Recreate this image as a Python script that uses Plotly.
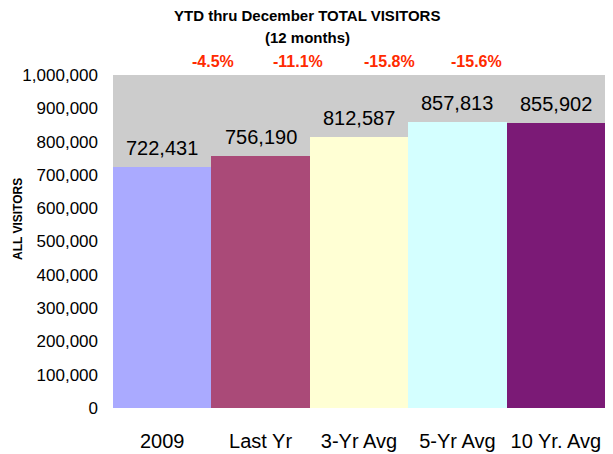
import plotly.graph_objects as go

categories = ["2009", "Last Yr", "3-Yr Avg", "5-Yr Avg", "10 Yr. Avg"]
visitors = [722431, 756190, 812587, 857813, 855902]
pct_labels = ["-4.5%", "-11.1%", "-15.8%", "-15.6%"]
pct_pos = [0.203, 0.376, 0.561, 0.738]
colors = ["#AAAAFF", "#AA4A78", "#FFFFD4", "#D4FFFF", "#7B1A76"]
tick_vals = list(range(0, 1000001, 100000))
tick_text = [f"{v:,}" for v in tick_vals]

FONT = "Liberation Sans, Arial, sans-serif"

fig = go.Figure(go.Bar(
    x=categories, y=visitors,
    marker=dict(color=colors, line=dict(width=0)),
    hoverinfo="x+y",
))

annotations = []
for i, v in enumerate(visitors):
    annotations.append(dict(text=f"{v:,}", x=i, y=v, xref="x", yref="y", showarrow=False,
                            yanchor="middle", xanchor="center", yshift=19,
                            font=dict(family=FONT, size=20, color="#000000")))
annotations.append(dict(text="<b>YTD thru December TOTAL VISITORS</b>", xref="paper", yref="paper",
                        x=(307 - 113) / 492, y=1 + (75 - 15) / 333, showarrow=False,
                        font=dict(family=FONT, size=15, color="#000000"), xanchor="center", yanchor="middle"))
annotations.append(dict(text="<b>(12 months)</b>", xref="paper", yref="paper",
                        x=(307 - 113) / 492, y=1 + (75 - 38) / 333, showarrow=False,
                        font=dict(family=FONT, size=15, color="#000000"), xanchor="center", yanchor="middle"))
for lbl, px in zip(pct_labels, pct_pos):
    annotations.append(dict(text=f"<b>{lbl}</b>", xref="paper", yref="paper", x=px,
                            y=1 + (75 - 61) / 333, showarrow=False,
                            font=dict(family=FONT, size=16, color="#FF2A00"),
                            xanchor="center", yanchor="middle"))
annotations.append(dict(text="<b>ALL VISITORS</b>", xref="paper", yref="paper",
                        x=(18 - 113) / 492, y=(408 - 219) / 333, textangle=-90, showarrow=False,
                        font=dict(family=FONT, size=12, color="#000000"),
                        xanchor="center", yanchor="middle"))

fig.update_layout(
    width=613, height=454,
    margin=dict(l=113, r=8, t=75, b=46),
    paper_bgcolor="#FFFFFF",
    plot_bgcolor="#CCCCCC",
    bargap=0,
    showlegend=False,
    font=dict(family=FONT, color="#000000"),
    annotations=annotations,
    xaxis=dict(type="category", categoryorder="array", categoryarray=categories,
               range=[-0.5, len(categories) - 0.5],
               showgrid=False, showline=False, zeroline=False, automargin=False,
               tickfont=dict(family=FONT, size=20, color="#000000"),
               ticks="", ticklabelstandoff=19),
    yaxis=dict(range=[0, 1000000], tickvals=tick_vals, ticktext=tick_text,
               showgrid=False, showline=False, zeroline=False, automargin=False,
               tickfont=dict(family=FONT, size=17, color="#000000"),
               ticks="", ticklabelstandoff=14),
)

fig.write_html("out.html", config={"displayModeBar": False},
               post_script="document.body.style.margin='0';document.body.style.overflow='hidden';")
